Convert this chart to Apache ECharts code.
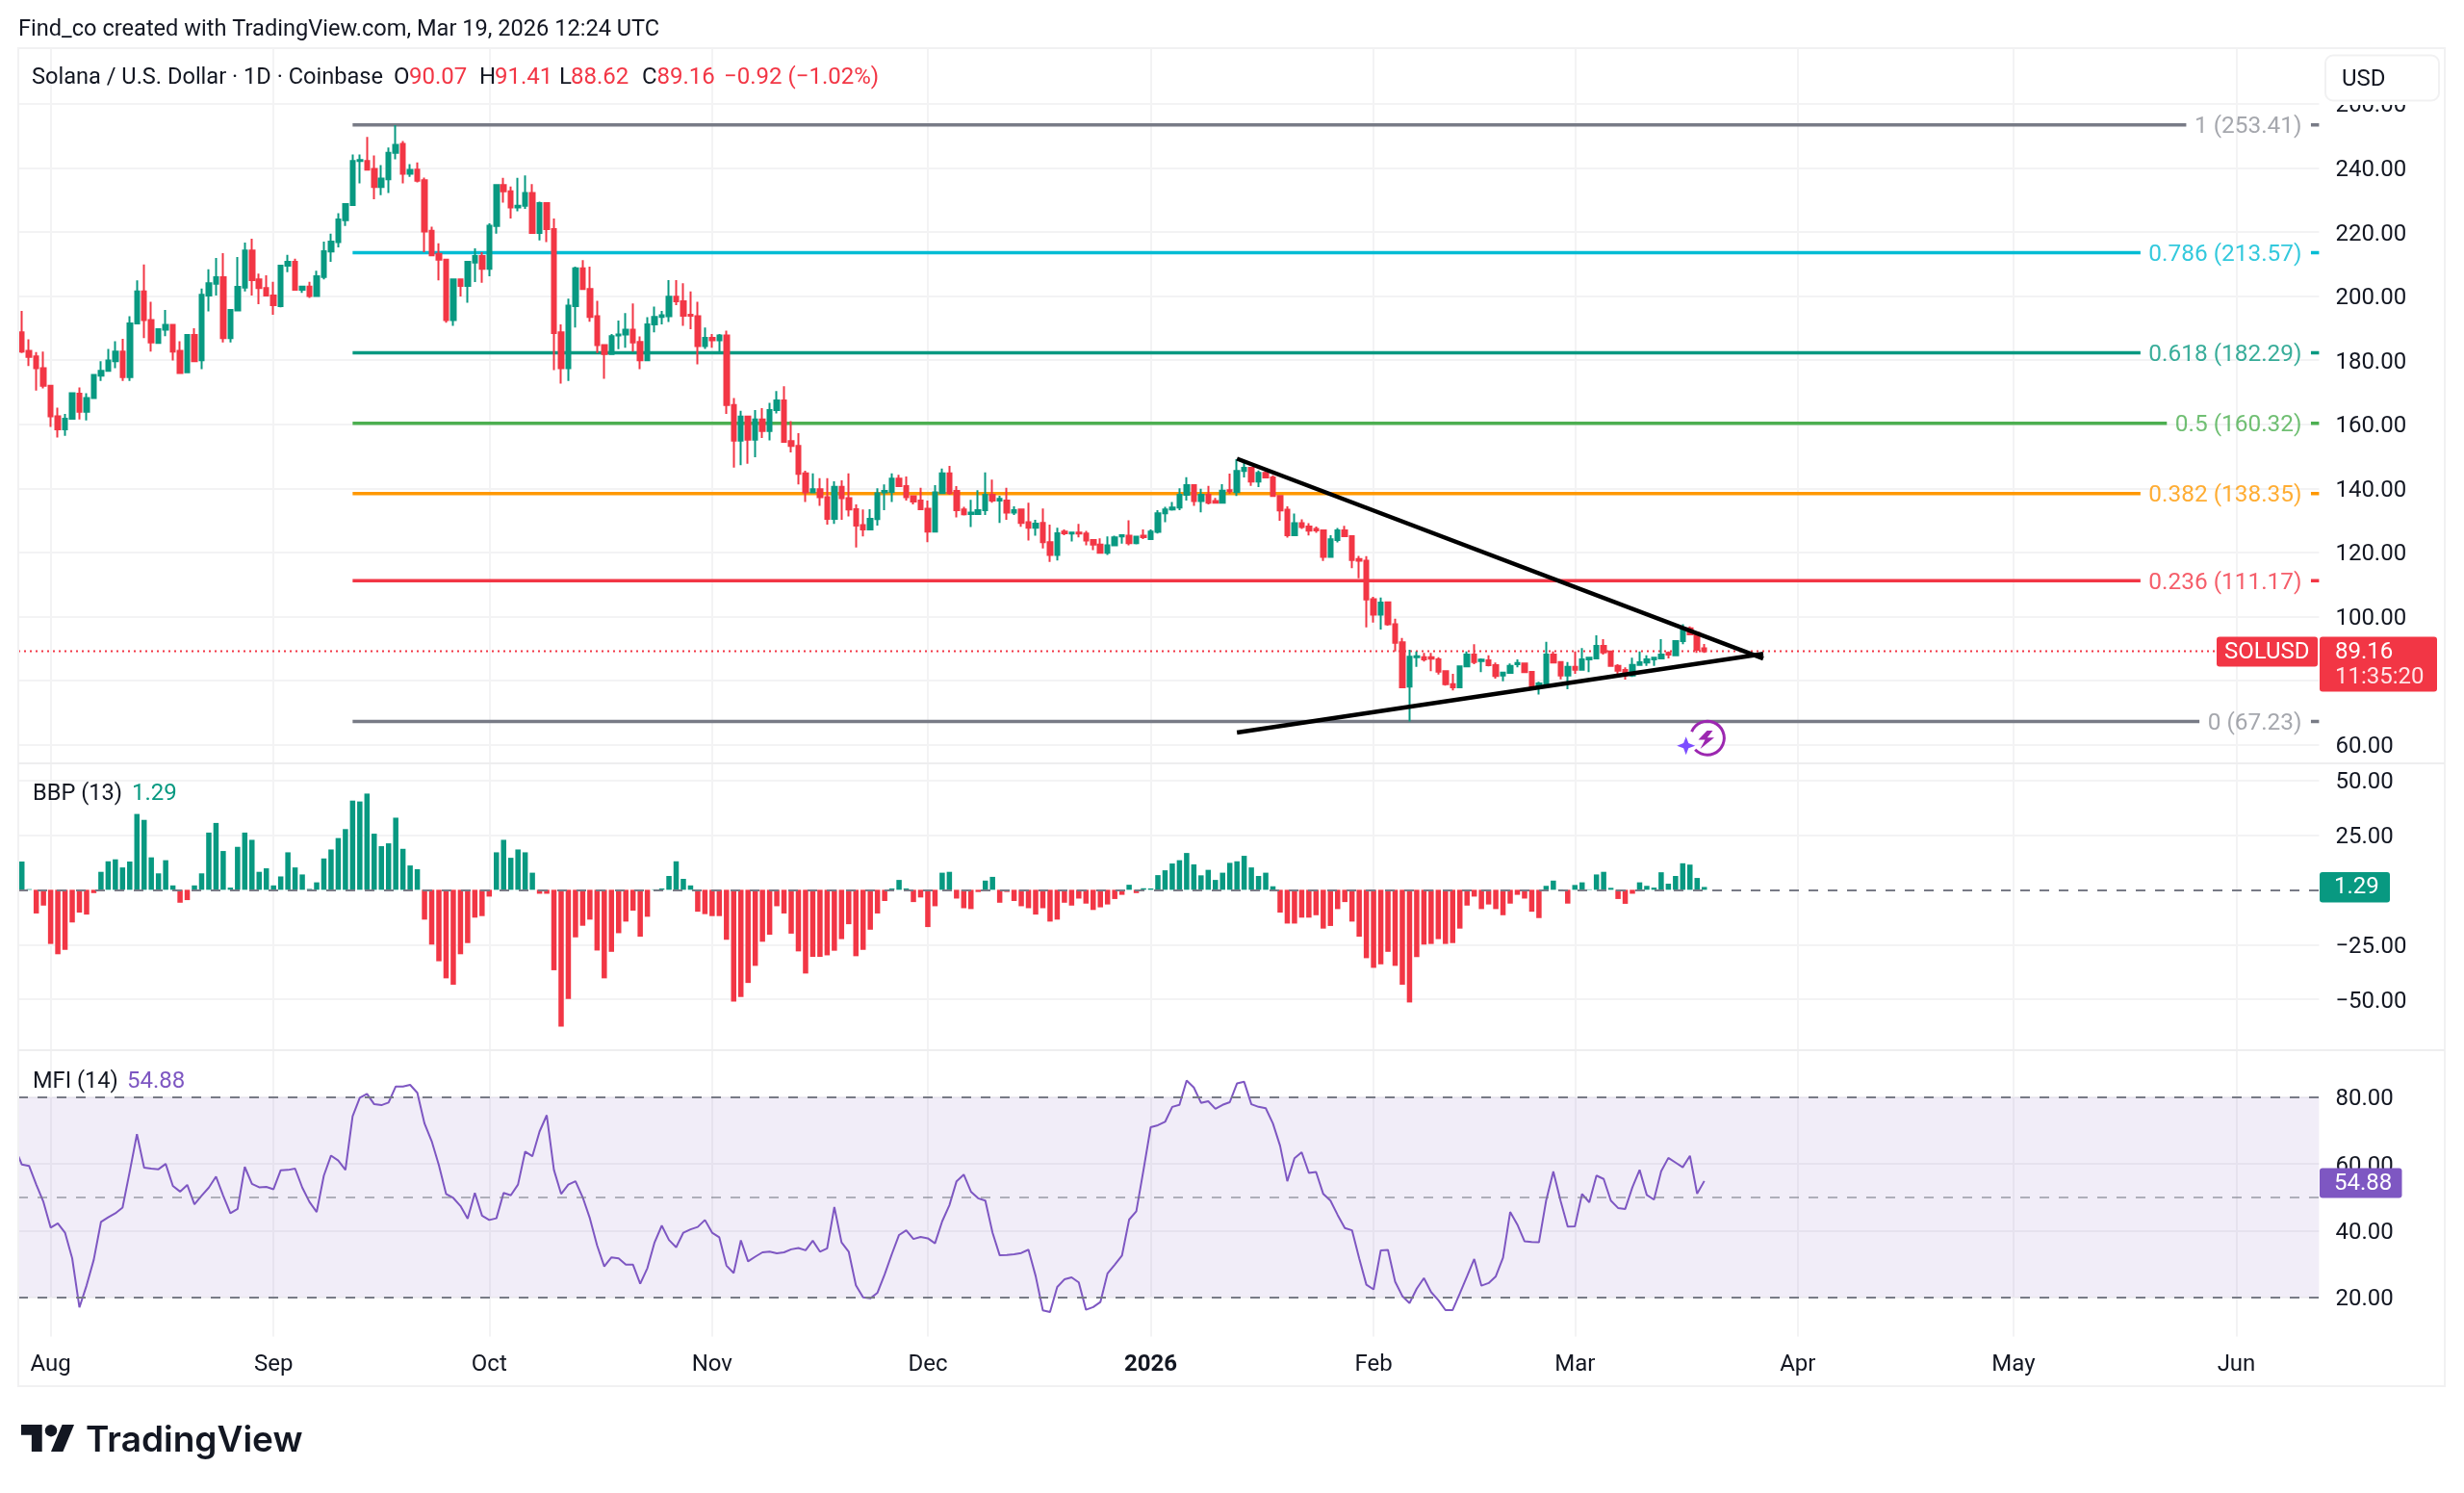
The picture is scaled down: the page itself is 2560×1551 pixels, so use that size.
<!DOCTYPE html>
<html>
<head>
<meta charset="utf-8">
<title>Solana / U.S. Dollar</title>
<script src="https://cdn.jsdelivr.net/npm/echarts@6/dist/echarts.min.js"></script>
<style>html,body{margin:0;padding:0;background:#fff}#chart{width:2560px;height:1551px}</style>
</head>
<body>
<div id="chart"></div>
<script>
// Daily candles, first session 2025-07-28, last session 2026-03-19
const opens = [
188.7,182.9,181.2,177.5,172,162.5,158.4,161.7,169.5,163.9,
168.2,175.2,176.7,179.7,182.7,174.7,191.5,201.5,192.5,185.4,
189.5,191,182.9,176.2,187.9,180,200.2,203.9,205.9,186.9,
195.5,202.7,214.2,205.2,202.5,200.2,196.9,209.5,210.7,202,
203,200,206,213.9,216.9,223.7,228.4,242.2,242.2,239.7,
234.1,236.5,244.7,247.5,238.2,239.5,236.2,220.4,213.2,211.4,
192.5,205.2,203.2,210.5,212.5,208.5,221.9,234.7,232.7,227.7,
228.2,232.2,219.7,229,220.9,188.7,177.5,196.9,208.7,202.2,
193.7,184.7,181.9,187.7,188,189.5,185.7,180,191.2,193.5,
193.7,199.8,198.4,194.2,193.7,184.4,187,186.2,187.7,166,
154.9,162.4,155.2,161.5,157.9,164.4,167.4,154.7,153.2,144.7,
138.7,139.7,137.2,130.5,140.5,136.9,133.5,128.5,127.2,130.4,
138.7,138.9,143,140.7,137.5,136.2,133.6,126.5,138.5,144.7,
139.2,133.4,132,132,133.2,138,136.2,136.2,132.4,133.4,
129.4,127.7,129.2,123.2,119.2,126.5,125.9,126.2,125.9,123.9,
122.4,119.9,122.2,125,125.2,122.9,125.2,124.2,126.4,132.2,
133.4,134,138,141,136,138,136,135.5,139.4,138.8,
145.4,146.4,142.1,144.8,143.4,137.6,133.3,125.4,129.1,128.1,
127.3,126.9,118.6,123.9,126.9,125.1,117.9,117.4,105.4,100.6,
104.4,97.6,91.9,78.1,87.3,87.3,87.3,86.6,82.9,78.9,
77.9,84.4,88.1,86.1,86.3,84.8,81.6,82.4,85.1,85.3,
82.7,77.9,78.9,88.1,85.8,81.6,84.3,83.4,86.6,86.9,
90.8,89.1,84.6,83.3,81.6,84.9,85.6,86.6,86.9,88.6,
87.9,92.3,96.3,94.9,90.07];
const closes = [
182.7,181,177.5,172,162.5,158.4,161.7,169.7,163.9,168.2,
175.4,176.7,179.9,182.7,174.7,191.5,201.5,192.5,185.5,189.7,
191,182.7,176,187.9,179.7,200.4,204,205.9,186.9,195.7,
202.9,214.2,205,202.5,200.2,197.2,209.5,210.7,202,203,
200,206.2,214,217,223.9,228.7,242.2,242.5,239.5,234.1,
236.7,244.7,247.2,238.2,239.4,236,220.2,212.7,211.4,192.5,
205.2,203.2,210.7,212.5,208.5,222,234.7,232.7,227.7,228.2,
232.2,219.7,229,220.9,188.5,177.5,197,208.7,202.2,193.5,
184.7,181.9,187.5,188,189.5,185.5,180,191.2,193.5,194,
199.8,198.4,193.9,193.9,184.4,187,186.2,187.7,166,154.9,
162.4,155.2,161.5,157.9,164.4,167.4,154.5,153.2,144.5,138.7,
139.7,137.2,130.5,140.5,136.9,133.4,128.4,127.2,130.5,138.4,
139.2,143,140.7,137.2,135.9,133.5,126.5,138.7,144.7,138.5,
133.2,131.9,132.4,133.2,138,136.2,136.7,132.4,133.2,129.2,
127.7,129,123.2,119.2,126,126,126.2,125.9,123.7,122.4,
119.9,122.2,124.7,125.4,122.9,124.9,124.8,126.5,132.2,133.4,
134,138,141,136,138,135.5,135.5,139.3,139.1,145.4,
146.4,142.1,144.8,143.4,137.6,133.1,125.4,129.1,127.9,126.8,
126.9,118.6,124.1,126.9,125.1,117.6,117.4,105.3,100.6,104.3,
97.6,91.8,77.9,87.4,87.6,86.6,86.8,82.8,78.9,77.9,
84.4,88.1,85.8,86.5,84.8,81.4,82.5,84.6,85.5,82.6,
77.4,79.1,88.1,85.6,81.6,84.3,83.4,86.6,87.1,90.8,
88.8,84.6,83.1,81.6,84.9,85.7,86.6,87.1,88.1,88.1,
92.3,96.3,94.4,89.6,89.16];
const highs = [
195.4,186.5,182.5,182.7,172,165.2,163.2,169.9,171.5,169.7,
175.4,179.7,183.5,185.9,186.7,193.7,204.9,209.9,198.2,189.9,
195.7,191,185.9,187.9,190,202.4,208.4,211.9,213.4,195.7,
212.2,216.7,217.9,207,206.5,204.5,209.5,212.9,211.7,203,
204.5,207.9,217,219.5,225.9,228.9,244.2,244.2,249.7,243.9,
240.9,246.4,253.4,248.4,241.2,241.7,237,221.7,216.5,211.4,
205.4,205.2,210.7,214.9,213.7,222.7,234.7,236.9,234.2,236.9,
237.7,235,229.5,229.2,224.2,191.2,199.2,209.2,211.2,209.2,
198.5,184.7,188.2,192.4,194.7,197.7,187.4,193.4,196.7,195.4,
205,205,204,201.5,198.2,190.2,188.2,188.2,189.2,168.2,
164.2,162.7,164.4,165,166.7,170.4,171.9,161,157.2,145.5,
144.7,143.2,143.2,142.2,142.5,144.7,135,133.4,133.5,140,
141.2,144.7,144.2,143.7,137.7,140.2,136.2,141,146.2,147,
140.7,134.2,136.4,139.4,145,142.7,137.7,140.2,134.4,133.7,
135.5,130.2,133.7,128.7,127.7,127.2,126.5,128.9,126.7,124.2,
124.4,125,125.2,125.6,130,125.2,127.2,127.2,133.2,134.2,
135.7,140,143.5,141,139.9,140.8,137,141.3,144.6,149.1,
148.1,146.6,145.6,145.3,144.1,137.6,134.4,132.1,130.3,129.1,
128.1,127.1,125.4,127.6,128.3,125.3,118.9,118.8,106.1,105.9,
104.6,99.3,93.3,89.6,89.1,88.6,88.6,87.3,83.1,82.1,
84.6,89.1,91.3,86.9,87.9,85.6,82.6,85.3,86.6,85.6,
82.9,79.6,92.1,89.1,86.1,85.8,89.1,90.1,87.1,94.1,
92.9,89.3,85.1,84.1,87.1,89.1,87.9,87.3,92.9,89.1,
92.6,97.6,96.9,95.3,91.41];
const lows = [
182.2,178.2,170.5,171.2,159.2,155.9,156.4,161.5,161.5,161.2,
167.9,173.5,176.5,177.5,173.5,173.5,191.5,186.9,182.7,185.2,
187.5,179.9,175.9,176,179.4,177.2,195.2,200.2,185.5,185.5,
195.5,201.5,200.2,197.5,200.2,194.2,196.5,207.5,202,201,
199.4,200,205.2,210.7,215.2,221.9,228.4,235.2,239.2,230.2,
231.5,232.2,242.7,235.2,237.2,235.5,213.7,212.5,204.9,191.7,
190.7,199.9,197.9,204.4,204.2,206.2,219.5,229.2,224.2,226.5,
227.2,219.7,217.4,216.9,176.9,172.7,173.5,190.2,202.2,192,
182.2,174.2,181.7,183.4,183.9,182.7,177.2,179.7,188.7,191.2,
191.9,197.2,190.7,189.7,178.7,183.5,183.9,182.7,163.2,146.5,
147.2,147.7,149.7,155.7,155,163.4,154.2,151.2,141.2,135.7,
138.7,134.5,128.7,128.9,130.2,131.2,121.5,125,127.2,128.4,
133.2,135.7,140.7,136.2,135,133.2,123.2,126.2,138.2,138,
130.9,131.5,127.9,131.7,131.7,135.5,129.2,130.2,131.7,128,
123.7,125.2,121.2,117,117.5,125.4,123.4,124.7,122.2,120.7,
119.9,119.2,121.9,122.7,122.2,122.5,124.2,123.9,125.9,129.4,
133,133.2,136.2,134.5,132.5,135,135.3,135.5,138.3,137.6,
143.4,140.8,140.4,143.4,137.4,129.9,124.6,125.4,127.3,125.3,
126.1,117.3,118.3,123.1,124.9,115.1,111.9,96.6,98.1,95.9,
97.1,89.1,77.6,67.23,84.3,85.9,82.9,81.9,78.4,76.9,
77.6,84.1,85.1,82.6,84.4,80.6,79.8,82.1,84.1,82.6,
77.1,75.6,78.6,85.3,80.4,77.3,82.1,83.1,82.6,86.6,
88.1,84.4,82.1,80.3,81.1,84.6,84.6,84.6,86.8,86.9,
87.6,91.3,94.1,88.6,88.62];

// Bull bear power (13)
const bbpValues = [
12.9,0.3,-10.8,-7.2,-24.7,-29.4,-27.4,-14.9,-10.4,-11.3,
-1.5,8.2,13,13.9,10.2,12.9,34.6,31.9,14.8,7.5,
13.5,2,-5.9,-4.7,2,7.5,26.1,30.5,17.7,1,
19.6,26.1,22.8,8.2,9.8,2,6.1,17.1,10.2,7,
0.4,3.4,14.3,18.4,23.6,27.7,40.7,40.3,43.9,25.6,
19.9,21.2,32.9,18.7,11.1,9.4,-13.6,-25,-32.6,-40.4,
-43.3,-29.4,-24.3,-12.7,-12,-3.1,17.1,22.8,14.6,18.4,
17.1,7.8,-1.8,-1.8,-36.7,-62.4,-49.8,-21.7,-16.4,-13.6,
-27.7,-40.4,-28.3,-19.8,-14.5,-9.5,-21.4,-12.3,0.2,0.6,
6.3,13,5,2,-10,-11.1,-12,-12,-22.8,-51,
-48.9,-42.5,-34.7,-23.7,-20.5,-7.5,-10.8,-20,-28.1,-38.2,
-30.6,-30.6,-29.9,-27.8,-22.5,-15.7,-30.3,-27.4,-18.2,-10.8,
-5.1,0.6,4.5,0.6,-5.6,-3.5,-17,-7.5,7.8,8.2,
-4,-8.4,-8.8,-1,4.2,5.9,-5.9,-1,-5.1,-7.5,
-8.4,-11.3,-8.4,-14.5,-13.6,-5.9,-7.2,-4,-6.3,-9.2,
-8,-6.7,-4.2,-2.3,2.3,-1.5,0.7,0.6,6.7,8.9,
12,13.5,16.8,11.6,6.6,9.1,4.5,7.8,12.3,13,
15.5,10.2,6.3,7.8,1.6,-10.4,-15.4,-15.4,-12.7,-12.7,
-11.6,-17.7,-16.5,-8.8,-5.6,-14.5,-21.4,-31.2,-35.6,-34,
-28.3,-34.7,-43.3,-51.4,-30.7,-25,-24.7,-22.5,-24.7,-24.3,
-17.7,-7.2,-3.1,-8.8,-6.7,-8.8,-11.6,-6.3,-2.3,-4,
-10,-12.9,1.8,4.2,0.2,-6.3,2.2,3.4,0.2,7,
8.2,0.9,-4.2,-6.4,-1.8,3.4,1.8,1,8,2.8,
6.3,12.1,11.5,5.4,1.29];

// Money flow index (14); the first value belongs to the session before the visible range
const mfiValues = [
65,59.8,59.4,53.8,48.6,40.9,42.2,39.4,31.7,17,23.6,
31.3,42.6,44,45.2,46.9,57.7,68.9,58.9,58.6,58.4,
60,53.4,51.7,53.7,47.9,50.5,52.9,56.2,50.5,45.2,
46.5,59.1,54,53,53.1,52.4,58.1,58.2,58.6,52.9,
48.6,45.6,56.5,62.5,61,58.2,74.3,79.8,81,77.9,
77.6,78.4,83.2,83.2,83.7,81.3,72.1,66.8,59.6,51,
49.8,47.4,43.6,51.3,44.5,43.2,43.7,51.3,50.6,53.8,
63.7,62.3,69.7,74.6,58.2,51,53.8,54.8,50,43.7,
35.6,29.3,32,31.7,29.8,29.8,24.1,28.8,36.5,41.5,
37.2,35,39.4,40.4,41.1,43.2,39.4,38,29.5,27.3,
37.1,30.8,32.2,33.5,33.7,33.2,33.5,34.4,34.8,34.1,
37,33.7,34.7,47.1,36.5,33.7,23.6,20,19.7,21.4,
26.9,33,38.7,40.1,37.5,38.1,37.7,36.2,42.8,47.6,
54.8,56.8,51.7,49.7,49,39.4,32.6,32.7,32.9,33.3,
34.3,26.4,16.1,15.6,23.1,25.4,26,24.5,16.3,17.1,
18.6,27.2,29.8,32.5,43.3,45.8,58.2,71,71.6,72.6,
77.1,77.7,85,82.9,78.3,78.8,76.5,77.7,78.5,84.1,
84.6,77.9,77.1,76.7,72.1,65.4,54.8,61.7,63.5,57.3,
57.6,51,49,44.7,40.8,40.1,31.7,23.8,22.4,34.1,
34.2,24.7,20.4,18.3,22.6,25.8,21.6,19.2,16.2,16.2,
21.2,26.3,31.5,23.5,24.3,26.3,31.9,45.6,41.8,36.8,
36.6,36.5,49,57.7,49,41.2,41.3,51,48.5,56.5,
55.5,49,46.8,46.5,53,58.2,50.7,49.3,57.8,61.8,
60.4,59,62.4,51.1,54.88];

// Fibonacci retracement levels
const fibRatios = ['1','0.786','0.618','0.5','0.382','0.236','0'];
const fibPrices = [253.41,213.57,182.29,160.32,138.35,111.17,67.23];
const fibColors = ['#787b86','#00bcd4','#089981','#4caf50','#ff9800','#f23645','#787b86'];
const fibTextColors = ['#8f9199','#00bcd4','#089981','#4caf50','#ff9800','#f23645','#8f9199'];
const fibStartDay = 46;

// Converging trend lines: start day and price, end day and price
const upperTrend = [[169, 149.26],[242.2, 86.86]];
const lowerTrend = [[169, 63.76],[242.2, 88.36]];

// Tick labels
const priceTicks = [60,80,100,120,140,160,180,200,220,240,260];
const bbpTicks = [-50,-25,25,50];
const mfiTicks = [20,40,60,80];
const monthDays = [4,35,65,96,126,157,188,216,247,277,308];
const monthLabels = ['Aug','Sep','Oct','Nov','Dec','2026','Feb','Mar','Apr','May','Jun'];

const lastPrice = 89.16, lastBbp = 1.29, lastMfi = 54.88;

const FONT = 'Roboto, sans-serif';
const FS = 24, FS_PROSE = 23.6, FS_FIB = 24.4;
const INK = '#131722', RED = '#f23645', GREEN = '#089981', PURPLE = '#7e57c2', GRID = '#f3f3f4';
const DAY_PX = 7.47, DAY_COUNT = 320, PLOT_LEFT = 19, PLOT_W = DAY_PX * DAY_COUNT;
const firstDate = Date.UTC(2025, 6, 28);
const dayLabels = Array.from({length: DAY_COUNT}, (_, i) => new Date(firstDate + i * 864e5).toISOString().slice(0, 10));
const dayMin = -0.5, dayMax = DAY_COUNT - 0.5;

const measure = document.createElement('canvas').getContext('2d');
measure.font = FS_FIB + 'px ' + FONT;

const minus = v => String(v).replace('-', '\u2212');
const fixed2 = v => '{n|' + minus(Number(v).toFixed(2)) + '}';

// Each fib level: long segment, short tail by the axis, text between them
const LABEL_RIGHT_DAY = 317.17, TAIL_START_DAY = 318.37;
const fibSeries = [];
fibPrices.forEach((p, i) => {
  const text = fibRatios[i] + ' (' + p.toFixed(2) + ')';
  const textDays = (measure.measureText(text).width + 9) / DAY_PX;
  fibSeries.push({
    type: 'line', xAxisIndex: 1, yAxisIndex: 0, z: 1, symbol: 'none', silent: true, animation: false,
    lineStyle: {color: fibColors[i], width: 3.5},
    data: [[fibStartDay, p], [LABEL_RIGHT_DAY - textDays, p]]
  });
  fibSeries.push({
    type: 'line', xAxisIndex: 1, yAxisIndex: 0, z: 1, symbol: 'none', silent: true, animation: false,
    lineStyle: {color: fibColors[i], width: 3.5},
    data: [[TAIL_START_DAY, p], [dayMax, p]]
  });
  fibSeries.push({
    type: 'scatter', xAxisIndex: 1, yAxisIndex: 0, z: 4, symbolSize: 1, silent: true, animation: false,
    itemStyle: {color: 'transparent'},
    label: {
      show: true, position: 'left', distance: 0, formatter: '{n|' + text + '}',
      rich: {n: {color: fibTextColors[i], fontFamily: FONT, fontSize: FS_FIB, padding: [5, 0, 0, 0]}}
    },
    data: [[LABEL_RIGHT_DAY, p]]
  });
});

const grids = [
  {left: PLOT_LEFT, top: 50.5, width: PLOT_W, height: 743},
  {left: PLOT_LEFT, top: 793.5, width: PLOT_W, height: 298},
  {left: PLOT_LEFT, top: 1091.5, width: PLOT_W, height: 297}
];

const hiddenCategory = g => ({
  type: 'category', gridIndex: g, data: dayLabels, boundaryGap: true,
  axisLine: {show: false}, axisTick: {show: false}, axisLabel: {show: false}, splitLine: {show: false}
});
const monthAxis = (g, showLabels) => ({
  type: 'value', gridIndex: g, min: dayMin, max: dayMax, position: 'bottom',
  axisLine: {show: false},
  axisTick: {show: false, customValues: monthDays},
  splitLine: {show: true, lineStyle: {color: GRID, width: 2}},
  axisLabel: showLabels ? {
    show: true, customValues: monthDays, margin: 17, color: INK, fontFamily: FONT, fontSize: FS,
    formatter: v => {
      const t = monthLabels[monthDays.indexOf(v)];
      return t === '2026' ? '{b|2026}' : t;
    },
    rich: {b: {fontWeight: 700, color: INK, fontFamily: FONT, fontSize: FS}}
  } : {show: false}
});
const priceAxis = (g, min, max, ticks) => ({
  type: 'value', gridIndex: g, min, max, position: 'right', scale: true,
  axisLine: {show: false},
  axisTick: {show: false, customValues: ticks},
  splitLine: {show: true, lineStyle: {color: GRID, width: 2}},
  axisLabel: {
    show: true, customValues: ticks, margin: 17, formatter: fixed2,
    rich: {n: {color: INK, fontFamily: FONT, fontSize: FS, padding: [5, 0, 0, 0]}}
  }
});

const chart = echarts.init(document.getElementById('chart'), null, {renderer: 'canvas'});

chart.setOption({
  animation: false,
  backgroundColor: '#ffffff',
  grid: grids,
  xAxis: [hiddenCategory(0), monthAxis(0, false), hiddenCategory(1), monthAxis(1, false), monthAxis(2, true)],
  yAxis: [
    priceAxis(0, 54, 277.26, priceTicks),
    priceAxis(1, -73.4, 57.47, bbpTicks),
    priceAxis(2, 8.26, 93.93, mfiTicks)
  ],
  series: [
    ...fibSeries,
    {
      type: 'line', xAxisIndex: 1, yAxisIndex: 0, z: 1, symbol: 'none', silent: true,
      lineStyle: {color: RED, width: 2, type: [2, 4]},
      data: [[dayMin, lastPrice], [305.4, lastPrice]]
    },
    {
      type: 'candlestick', xAxisIndex: 0, yAxisIndex: 0, z: 2, barWidth: 5, silent: true,
      itemStyle: {color: GREEN, color0: RED, borderColor: GREEN, borderColor0: RED, borderWidth: 2},
      data: opens.map((o, i) => [o, closes[i], lows[i], highs[i]])
    },
    {
      type: 'line', xAxisIndex: 1, yAxisIndex: 0, z: 3, symbol: 'none', silent: true,
      lineStyle: {color: '#000000', width: 4.5}, data: upperTrend
    },
    {
      type: 'line', xAxisIndex: 1, yAxisIndex: 0, z: 3, symbol: 'none', silent: true,
      lineStyle: {color: '#000000', width: 4.5}, data: lowerTrend
    },
    {
      type: 'bar', xAxisIndex: 2, yAxisIndex: 1, barWidth: 5.5, silent: true,
      data: bbpValues.map(v => ({value: v, itemStyle: {color: v >= 0 ? GREEN : RED}})),
      markLine: {
        silent: true, symbol: 'none', label: {show: false}, animation: false, z: 5,
        lineStyle: {color: '#787b86', width: 2, type: [10, 10]},
        data: [{yAxis: 0}]
      }
    },
    {
      type: 'line', xAxisIndex: 4, yAxisIndex: 2, symbol: 'none', silent: true, z: 3,
      lineStyle: {color: PURPLE, width: 2},
      data: mfiValues.map((v, i) => [i - 1, v]),
      markArea: {
        silent: true, animation: false, itemStyle: {color: 'rgba(126,87,194,0.11)'},
        data: [[{yAxis: 20}, {yAxis: 80}]]
      },
      markLine: {
        silent: true, symbol: 'none', label: {show: false}, animation: false,
        data: [
          {yAxis: 80, lineStyle: {color: '#787b86', width: 2, type: [10, 10]}},
          {yAxis: 50, lineStyle: {color: 'rgba(120,123,134,0.55)', width: 2, type: [10, 10]}},
          {yAxis: 20, lineStyle: {color: '#787b86', width: 2, type: [10, 10]}}
        ]
      }
    }
  ]
});

// Fixed page furniture and the value tags beside the axes
const yOf = (axis, v) => chart.convertToPixel({yAxisIndex: axis}, v);
const text = (x, y, t, fill, extra) => ({
  type: 'text', x, y, z: 20,
  style: Object.assign({text: t, fill, font: FS + 'px ' + FONT, verticalAlign: 'middle', align: 'left'}, extra || {})
});
const prose = {font: FS_PROSE + 'px ' + FONT};
const box = (x, y, w, h, fill, r) => ({
  type: 'rect', z: 15, shape: {x, y, width: w, height: h, r: r || 0}, style: {fill}
});
const rule = (x1, y1, x2, y2) => ({
  type: 'line', z: 12, shape: {x1, y1, x2, y2}, style: {stroke: '#eeeeef', lineWidth: 2}
});

const yPrice = yOf(0, lastPrice), yBbp = yOf(1, lastBbp), yMfi = yOf(2, lastMfi);
const sx = x => 22 + x * 1.55, sy = y => 1473.8 + y * 1.55;
const pts = a => a.map(p => [sx(p[0]), sy(p[1])]);
const sparkleX = 1751.7, sparkleY = 774.7, sparkleR = 9.5, sparkleIn = 2.6;

const elements = [
  // frame and pane separators
  {type: 'rect', z: 12, shape: {x: 19, y: 50, width: 2521, height: 1390}, style: {fill: 'none', stroke: '#f1f1f2', lineWidth: 2}},
  rule(19, 793, 2540, 793),
  rule(19, 1091, 2540, 1091),

  // heading lines
  text(19, 31, 'Find_co created with TradingView.com, Mar 19, 2026 12:24 UTC', INK, prose),
  text(33, 81, 'Solana / U.S. Dollar \u00b7 1D \u00b7 Coinbase', INK, prose),
  text(409, 81, 'O', INK), text(425, 81, '90.07', RED),
  text(498, 81, 'H', INK), text(514, 81, '91.41', RED),
  text(581, 81, 'L', INK), text(593, 81, '88.62', RED),
  text(667, 81, 'C', INK), text(682.5, 81, '89.16', RED),
  text(752, 81, '\u22120.92 (\u22121.02%)', RED),

  // currency box covers the top of the price scale
  box(2412, 51, 126, 58, '#ffffff'),
  {type: 'rect', z: 16, shape: {x: 2416, y: 57.5, width: 118, height: 47, r: 8}, style: {fill: '#ffffff', stroke: '#f1f1f2', lineWidth: 2}},
  text(2433, 82.5, 'USD', INK),

  // pane captions
  text(34, 825, 'BBP (13)', INK, prose), text(137, 825, lastBbp.toFixed(2), GREEN),
  text(34, 1124, 'MFI (14)', INK, prose), text(132, 1124, lastMfi.toFixed(2), PURPLE),

  // last price tags
  box(2303, yPrice - 15, 105, 31, RED, 3),
  text(2311, yPrice + 2, 'SOLUSD', '#ffffff'),
  box(2410, yPrice - 15, 122, 57, RED, 3),
  text(2426, yPrice + 2, lastPrice.toFixed(2), '#ffffff'),
  text(2426, yPrice + 27.5, '11:35:20', '#ffe4e6'),
  box(2410, yBbp - 15.5, 73, 31.5, GREEN, 3),
  text(2425, yBbp + 1, lastBbp.toFixed(2), '#ffffff'),
  box(2410, yMfi - 13.5, 85.5, 31, PURPLE, 3),
  text(2425, yMfi + 3, lastMfi.toFixed(2), '#ffffff'),

  // data-window badge near the last session
  {type: 'arc', z: 14, shape: {cx: 1773.8, cy: 766.7, r: 17.5, startAngle: 3.53, endAngle: 8.66, clockwise: true}, style: {fill: 'none', stroke: '#9c27b0', lineWidth: 3}},
  {type: 'polygon', z: 14, shape: {points: [[1773.5,759],[1764.5,768.5],[1771.5,768.5],[1766.5,778],[1781,766.2],[1773.8,766.2],[1779.5,759]]}, style: {fill: '#9c27b0'}},
  {type: 'polygon', z: 14, shape: {points: [
    [sparkleX, sparkleY - sparkleR], [sparkleX + sparkleIn, sparkleY - sparkleIn],
    [sparkleX + sparkleR, sparkleY], [sparkleX + sparkleIn, sparkleY + sparkleIn],
    [sparkleX, sparkleY + sparkleR], [sparkleX - sparkleIn, sparkleY + sparkleIn],
    [sparkleX - sparkleR, sparkleY], [sparkleX - sparkleIn, sparkleY - sparkleIn]
  ]}, style: {fill: '#7c4dff'}},

  // wordmark
  {type: 'polygon', z: 14, shape: {points: pts([[14,22],[7,22],[7,11],[0,11],[0,4],[14,4]])}, style: {fill: INK}},
  {type: 'polygon', z: 14, shape: {points: pts([[28,22],[20,22],[27.5,4],[35.5,4]])}, style: {fill: INK}},
  {type: 'circle', z: 14, shape: {cx: sx(20), cy: sy(8), r: 4 * 1.55}, style: {fill: INK}},
  text(89, 1496.5, 'TradingView', INK, {font: '600 37px Inter, ' + FONT})
];

chart.setOption({graphic: {elements}});
</script>
</body>
</html>
